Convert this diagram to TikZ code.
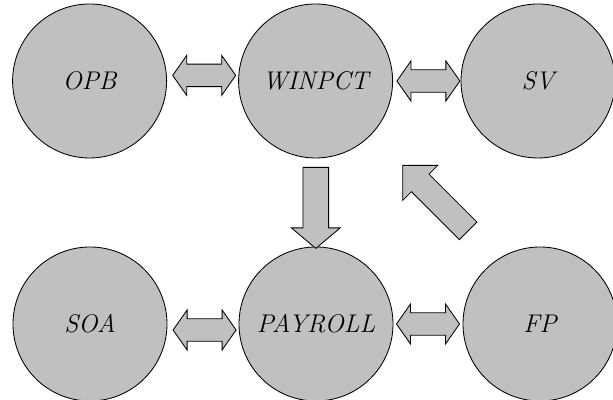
\documentclass[tikz,border=0pt]{standalone}
\usetikzlibrary{shapes.arrows,calc}
\definecolor{boxgray}{RGB}{192,192,192}

\begin{document}
\begin{tikzpicture}[
    module/.style={circle, draw=black, fill=boxgray, line width=0.6pt, minimum size=3.85cm, inner sep=0pt, font=\fontsize{18.2}{22}\selectfont\itshape},
    link/.style={double arrow, draw=black, fill=boxgray, line width=0.6pt, text height=0pt, text depth=0pt, inner xsep=0pt, inner ysep=0.27cm, double arrow head extend=0.22cm, double arrow tip angle=110, minimum height=1.575cm},
    flow/.style={single arrow, draw=black, fill=boxgray, line width=0.6pt, text height=0pt, text depth=0pt, inner xsep=0pt}
]
\useasboundingbox (0,0) rectangle (15.325,10);

% Top row
\node[module] (opb) at (2.24, 7.975) {OPB};
\node[module] (winpct) at (7.89, 7.975) {WINPCT};
\node[module] (sv) at (13.45, 7.975) {SV};

% Bottom row
\node[module] (soa) at (2.25, 1.9) {SOA};
\node[module] (payroll) at (7.9, 1.9) {PAYROLL};
\node[module] (fp) at (13.5, 1.9) {FP};

% Two-way links
\node[link] (opbwin) at ($(opb)!0.5!(winpct)+(0.04,0.14)$) {};
\node[link] (winsv) at ($(winpct)!0.5!(sv)+(0.04,0)$) {};
\node[link] (soapay) at ($(soa)!0.5!(payroll)+(0.04,-0.15)$) {};
\node[link] (payfp) at ($(payroll)!0.5!(fp)$) {};

% One-way flows
\node[flow, rotate=-90, minimum height=2.025cm, inner ysep=0.31cm,
      single arrow head extend=0.29cm, single arrow tip angle=100]
  (winpay) at ($(winpct)!0.5!(payroll)$) {};
\node[flow, rotate=135, minimum height=2.315cm, inner ysep=0.3cm,
      single arrow head extend=0.31cm, single arrow tip angle=90]
  (fpwin) at ($(fp)!0.5!(winpct)+(0.3,0)$) {};

\end{tikzpicture}
\end{document}
